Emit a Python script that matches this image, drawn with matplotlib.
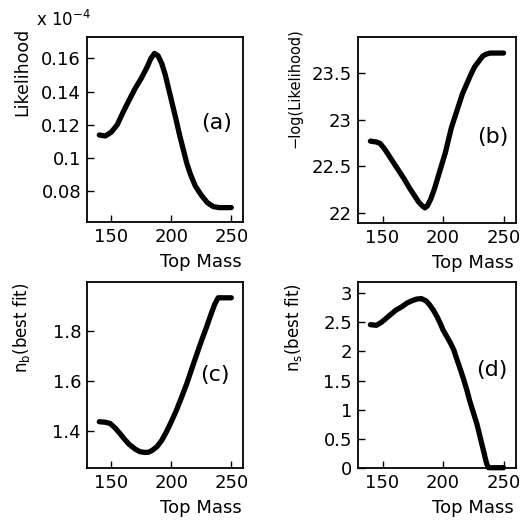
import matplotlib
matplotlib.use("Agg")
import matplotlib.pyplot as plt

# likelihood scan vs top mass
mass_a = [140, 145, 150, 155, 160, 165, 170, 175, 180, 183, 186, 189, 192, 195,
          198, 201, 204, 207, 210, 213, 216, 220, 225, 230, 235, 240, 245, 250]
likelihood = [0.1138, 0.1132, 0.1155, 0.120, 0.1278, 0.135, 0.142, 0.148, 0.155,
              0.160, 0.163, 0.1615, 0.157, 0.150, 0.141, 0.132, 0.123, 0.1135,
              0.105, 0.0965, 0.090, 0.083, 0.0775, 0.0730, 0.0706, 0.0700,
              0.0700, 0.0700]

mass_b = [140, 145, 148, 152, 156, 160, 164, 168, 172, 176, 180, 183, 185, 187,
          190, 193, 196, 199, 202, 204, 207, 210, 213, 216, 220, 223, 226, 230,
          233, 236, 239, 245, 250]
neg_log_l = [22.77, 22.76, 22.745, 22.68, 22.60, 22.52, 22.44, 22.36, 22.27,
             22.19, 22.11, 22.07, 22.05, 22.07, 22.15, 22.26, 22.39, 22.52,
             22.65, 22.76, 22.92, 23.04, 23.16, 23.28, 23.40, 23.49, 23.57,
             23.64, 23.69, 23.71, 23.72, 23.72, 23.72]

mass_c = [140, 145, 149, 153, 157, 161, 165, 170, 174, 178, 181, 184, 188, 192,
          196, 200, 204, 208, 213, 217, 221, 225, 229, 233, 236, 239, 245, 250]
n_b = [1.437, 1.435, 1.430, 1.413, 1.391, 1.367, 1.346, 1.327, 1.317, 1.314,
       1.315, 1.322, 1.337, 1.362, 1.397, 1.437, 1.480, 1.528, 1.591, 1.648,
       1.704, 1.759, 1.811, 1.866, 1.905, 1.933, 1.933, 1.933]

mass_d = [140, 145, 149, 153, 157, 161, 166, 170, 174, 178, 182, 186, 189, 192,
          195, 198, 200, 203, 206, 209, 211, 214, 217, 220, 222, 225, 228, 230,
          232, 234, 236, 237.5, 243, 250]
n_s = [2.46, 2.45, 2.50, 2.57, 2.64, 2.71, 2.77, 2.83, 2.87, 2.90, 2.91, 2.87,
       2.80, 2.71, 2.60, 2.47, 2.37, 2.26, 2.15, 2.02, 1.89, 1.71, 1.52, 1.31,
       1.15, 0.95, 0.75, 0.58, 0.41, 0.24, 0.07, 0.0, 0.0, 0.0]

x_ticks = [150, 200, 250]
yticks_a = [0.08, 0.1, 0.12, 0.14, 0.16]
yticks_b = [22, 22.5, 23, 23.5]
yticks_c = [1.4, 1.6, 1.8]
yticks_d = [0, 0.5, 1, 1.5, 2, 2.5, 3]

plt.rcParams['font.family'] = ['DejaVu Sans']
plt.rcParams['mathtext.fontset'] = 'dejavusans'

fig = plt.figure(figsize=(5.2, 5.23), dpi=100)

W, H = 520.0, 523.0


def make_axes(left, right, top, bottom):
    return fig.add_axes([left / W, 1 - bottom / H, (right - left) / W, (bottom - top) / H])


panels = [
    (make_axes(87.3, 243.3, 37.3, 221.7), mass_a, likelihood, yticks_a, (0.0615, 0.1727),
     "Likelihood", 12.5, (-0.42, 1.05), "(a)", (0.83, 0.535)),
    (make_axes(358.3, 515.7, 37.3, 222.7), mass_b, neg_log_l, yticks_b, (21.89, 23.89),
     "\u2212log(Likelihood)", 10.5, (-0.40, 1.05), "(b)", (0.853, 0.462)),
    (make_axes(87.3, 243.3, 282.3, 467.7), mass_c, n_b, yticks_c, (1.253, 1.995),
     r"$\mathrm{n_b}$(best fit)", 12, (-0.42, 0.996), "(c)", (0.82, 0.5)),
    (make_axes(358.3, 515.7, 281.7, 467.7), mass_d, n_s, yticks_d, (0, 3.2),
     r"$\mathrm{n_s}$(best fit)", 12, (-0.41, 0.996), "(d)", (0.85, 0.525)),
]

for ax, xs, ys, yt, ylim, ylab, ylab_size, ylab_pos, tag, tag_pos in panels:
    ax.plot(xs, ys, color='black', lw=3.8, solid_capstyle='round',
            solid_joinstyle='round', clip_on=False, zorder=3)
    ax.set_xlim(130, 260)
    ax.set_ylim(*ylim)
    ax.set_xticks(x_ticks)
    ax.set_xticklabels([str(t) for t in x_ticks])
    ax.set_yticks(yt)
    ax.set_yticklabels(['%g' % t for t in yt])
    ax.tick_params(direction='in', length=5, width=1, labelsize=13, pad=4.5,
                   top=False, right=False)
    for s in ax.spines.values():
        s.set_linewidth(1.3)
    ax.text(ylab_pos[0], ylab_pos[1], ylab, transform=ax.transAxes, rotation=90,
            ha='center', va='top', fontsize=ylab_size)
    ax.text(tag_pos[0], tag_pos[1], tag, transform=ax.transAxes,
            ha='center', va='center', fontsize=16)
    ax.text(0.99, -0.245, "Top Mass", transform=ax.transAxes,
            ha='right', va='baseline', fontsize=13)

# exponent of the likelihood axis
fig.text(36 / W, 1 - 26 / H, r"x 10$^{-4}$", ha='left', va='baseline', fontsize=12)

fig.savefig("out.png", dpi=100)
